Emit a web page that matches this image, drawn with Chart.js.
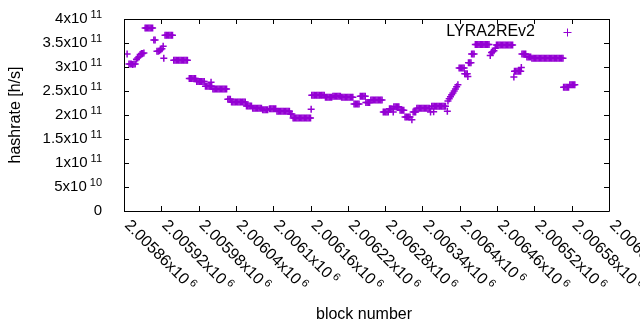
<!DOCTYPE html>
<html>
<head>
<meta charset="utf-8">
<script src="https://cdn.jsdelivr.net/npm/chart.js@4/dist/chart.umd.min.js"></script>
<style>
  html, body { margin: 0; padding: 0; background: #fff; }
  canvas { display: block; }
</style>
</head>
<body>
<canvas id="c" width="640" height="330"></canvas>
<script>
// ---- data (block number, hashrate in units of 1e9 h/s) ----
const blocks = [
  2005865,
  2005868,2005870,2005872,2005874,2005876,2005878,
  2005880,2005882,2005884,
  2005886,2005888,2005890,2005892,
  2005894,2005896,2005898,2005900,2005902,2005904,2005906,
  2005908,2005910,
  2005913,2005915,2005917,2005919,2005921,2005923,2005924,
  2005926,2005928,2005930,2005932,2005934,2005936,2005938,
  2005940,2005942,2005944,2005946,2005948,2005950,2005952,2005954,2005956,2005958,2005960,2005962,
  2005965,2005967,2005969,2005971,2005973,2005975,
  2005977,2005979,2005981,2005983,2005985,2005987,2005989,
  2005991,2005993,2005995,2005997,2005999,2006000,2006001,
  2006003,2006005,2006007,2006009,2006011,2006013,2006015,2006017,2006019,2006021,2006023,2006025,
  2006027,2006029,2006031,
  2006033,2006035,2006037,2006039,2006041,2006043,2006045,2006047,2006049,2006051,2006053,2006055,
  2006057,2006059,2006061,2006063,2006065,
  2006067,2006069,2006071,2006073,2006075,2006077,2006079,2006081,
  2006083,2006085,2006087,2006089,2006091,
  2006094,2006096,2006098,2006100,2006102,2006104,
  2006106,2006108,2006110,2006112,2006114,2006116,2006118,2006120,2006122,2006124,2006126,
  2006128,2006130,
  2006132,2006134,2006136,2006138,2006140,2006142,2006144,2006146,2006148,2006150,2006152,2006154,2006156,2006158,2006160,
  2006161,
  2006162,2006164,2006166,2006168,2006170,2006172,2006174,2006176,2006178,2006180,2006182,
  2006184,2006186,2006188,2006190,2006192,2006194,
  2006196,2006198,2006200,2006202,2006204,2006206,2006208,
  2006210,2006212,2006214,2006216,2006218,2006220,2006222,2006224,2006226,2006228,
  2006230,2006232,2006234,2006236,2006238,
  2006240,2006242,2006244,2006246,2006248,
  2006249,2006251,2006253,2006255,
  2006257,2006259,2006261,2006263,2006265,2006267,2006269,2006271,2006273,2006275,
  2006277,2006279,2006281,2006283,2006285,
  2006287,2006289,2006291,
  2006293,2006294,2006296,2006298,2006300,2006302,
  2006304,2006306,2006308,2006310,
  2006312,2006314,2006316,2006318,2006320,2006323,
  2006325,2006327,2006329,
  2006331,2006333,2006335,2006337,2006339,2006341,2006343,2006345,2006347,2006349,2006351,2006353,
  2006355,2006357,2006358,2006359,2006361,2006363,2006365,2006367,2006369,2006371,2006373,2006375,2006377,
  2006380,
  2006381,2006383,2006385,2006387,2006389,2006391,2006393,2006395,2006397,
  2006399,2006401,2006403,2006405,2006407,
  2006408,2006410,2006412,2006413,
  2006414,2006416,2006418,
  2006419,2006421,2006423,
  2006425,2006427,2006429,2006431,2006433,2006435,2006437,2006439,2006441,2006443,2006445,2006447,
  2006449,2006451,2006453,2006455,2006457,
  2006459,2006461,2006463,2006465,2006467,2006469,2006471,2006473,2006475,2006477,2006479,2006481,2006483,2006485,
  2006487,2006488,2006490,2006492,2006494,2006496,2006498,2006499,
  2006500,2006502,2006504,2006506,
  2006508,2006510,2006512,2006514,
  2006516,2006518,2006520,2006522,2006524,2006526,2006528,2006530,2006532,2006534,2006536,2006538,2006540,
  2006542,2006544,2006546,2006548,2006550,2006552,2006554,2006556,2006558,2006560,2006562,2006564,2006566,
  2006567,2006569,2006571,2006573,2006575,
  2006577,2006579,2006581,2006583,2006585
];
const hashrateGH = [
  327,
  306,306,306,305,306,306,
  316,319,321,
  326,328,328,329,
  381,381,381,381,381,381,381,
  356,356,
  333,333,334,336,338,343,318,
  366,366,366,366,366,366,366,
  314,314,314,314,314,314,314,314,314,314,314,314,
  276,276,276,276,276,276,
  270,270,270,270,270,270,270,
  260,260,260,260,260,268,260,
  254,254,254,254,254,254,254,254,254,254,254,254,
  233,233,233,
  227,227,227,227,227,227,227,227,227,227,227,227,
  219,219,219,219,219,
  214,214,214,214,214,214,214,214,
  211,211,211,211,211,
  213,213,213,213,213,213,
  208,208,208,208,208,208,208,208,208,208,208,
  202,202,
  194,194,194,194,194,194,194,194,194,194,194,194,194,194,194,
  212,
  241,241,241,241,241,241,241,241,241,241,241,
  237,237,237,237,237,237,
  239,239,239,239,239,239,239,
  237,237,237,237,237,237,237,237,237,237,
  223,223,223,223,223,
  239,239,239,239,239,
  226,226,226,226,
  231,231,231,231,231,231,231,231,231,231,
  206,206,206,206,206,
  213,213,213,
  206,217,217,217,217,217,
  210,210,210,210,
  196,196,196,196,196,190,
  206,206,206,
  214,214,214,214,214,214,214,214,214,214,214,206,
  218,218,207,218,218,218,218,218,218,218,218,218,218,
  208,
  229,234,238,242,246,250,254,259,263,
  298,298,298,298,298,
  286,286,286,280,
  309,309,309,
  327,327,327,
  347,347,347,347,347,347,347,347,347,347,347,347,
  324,330,332,334,339,
  346,346,346,346,346,346,346,346,346,346,346,346,346,346,
  279,291,291,291,291,291,291,299,
  327,327,327,327,
  321,321,321,321,
  318,318,318,318,318,318,318,318,318,318,318,318,318,
  318,318,318,318,318,318,318,318,318,318,318,318,318,
  258,258,258,258,258,
  263,263,263,263,263
];
const seriesName = 'LYRA2REv2';

// ---- axes / ticks ----
const xTicks = [2005860,2005920,2005980,2006040,2006100,2006160,2006220,2006280,2006340,2006400,2006460,2006520,2006580,2006640];
const xTickLabels = [
  ['2.00586x10','6'],['2.00592x10','6'],['2.00598x10','6'],['2.00604x10','6'],['2.0061x10','6'],
  ['2.00616x10','6'],['2.00622x10','6'],['2.00628x10','6'],['2.00634x10','6'],['2.0064x10','6'],
  ['2.00646x10','6'],['2.00652x10','6'],['2.00658x10','6'],['2.00664x10','6']
];
const yTicks = [0,5e10,1e11,1.5e11,2e11,2.5e11,3e11,3.5e11,4e11];
const yTickLabels = [['0',''],['5x10','10'],['1x10','11'],['1.5x10','11'],['2x10','11'],['2.5x10','11'],['3x10','11'],['3.5x10','11'],['4x10','11']];
const xTitle = 'block number';
const yTitle = 'hashrate [h/s]';

const COLOR = '#9400d3';
const FONT = '"Liberation Sans", Arial, sans-serif';

const points = blocks.map((b, i) => ({ x: b, y: hashrateGH[i] * 1e9 }));

function supText(ctx, base, sup, x, y, size, supSize, gap, align) {
  ctx.font = size + 'px ' + FONT;
  const wb = ctx.measureText(base).width;
  ctx.font = supSize + 'px ' + FONT;
  const ws = sup ? ctx.measureText(sup).width : 0;
  const g = sup ? gap : 0;
  const total = wb + g + ws;
  const x0 = align === 'right' ? x - total : x;
  ctx.textAlign = 'left';
  ctx.textBaseline = 'middle';
  ctx.font = size + 'px ' + FONT;
  ctx.fillText(base, x0, y);
  if (sup) {
    ctx.font = supSize + 'px ' + FONT;
    ctx.fillText(sup, x0 + wb + g, y - 4);
  }
}

const gnuplotFrame = {
  id: 'gnuplotFrame',
  afterDraw(chart) {
    const ctx = chart.ctx;
    const xs = chart.scales.x, ys = chart.scales.y;
    const L = xs.left, R = xs.right, T = ys.top, B = ys.bottom;
    ctx.save();
    ctx.strokeStyle = '#000';
    ctx.lineWidth = 1;
    ctx.beginPath();
    ctx.rect(Math.round(L) + 0.5, Math.round(T) + 0.5, Math.round(R - L), Math.round(B - T));
    ctx.stroke();
    const tl = 5;
    ctx.beginPath();
    yTicks.forEach(v => {
      const py = Math.round(ys.getPixelForValue(v)) + 0.5;
      ctx.moveTo(L, py); ctx.lineTo(L + tl, py);
      ctx.moveTo(R, py); ctx.lineTo(R - tl, py);
    });
    xTicks.forEach(v => {
      const px = Math.round(xs.getPixelForValue(v)) + 0.5;
      ctx.moveTo(px, B); ctx.lineTo(px, B - tl);
      ctx.moveTo(px, T); ctx.lineTo(px, T + tl);
    });
    ctx.stroke();

    ctx.fillStyle = '#000';
    // y tick labels
    yTicks.forEach((v, i) => {
      const py = ys.getPixelForValue(v);
      supText(ctx, yTickLabels[i][0], yTickLabels[i][1], L - 22, py, 15, 11, 3, 'right');
    });
    // x tick labels (rotated, reading downward)
    xTicks.forEach((v, i) => {
      const px = xs.getPixelForValue(v);
      ctx.save();
      ctx.translate(px + 3, B + 12);
      ctx.rotate(Math.PI / 4);
      supText(ctx, xTickLabels[i][0], xTickLabels[i][1], 0, 0, 16, 11, 3, 'left');
      ctx.restore();
    });
    // axis titles
    ctx.font = '16px ' + FONT;
    ctx.textAlign = 'center';
    ctx.textBaseline = 'middle';
    ctx.fillText(xTitle, 364, 315);
    ctx.save();
    ctx.translate(16, (T + B) / 2);
    ctx.rotate(-Math.PI / 2);
    ctx.fillText(yTitle, 0, 0);
    ctx.restore();
    // key
    ctx.textAlign = 'right';
    ctx.textBaseline = 'middle';
    ctx.fillText(seriesName, 535, 32);
    ctx.strokeStyle = COLOR;
    ctx.beginPath();
    ctx.moveTo(563.5, 32.5); ctx.lineTo(571.5, 32.5);
    ctx.moveTo(567.5, 28.5); ctx.lineTo(567.5, 36.5);
    ctx.stroke();
    ctx.restore();
  }
};

new Chart(document.getElementById('c'), {
  type: 'scatter',
  data: {
    datasets: [{
      label: seriesName,
      data: points,
      showLine: false,
      pointStyle: 'cross',
      pointRadius: 3.5,
      pointBorderWidth: 1.5,
      borderColor: COLOR,
      backgroundColor: COLOR
    }]
  },
  options: {
    responsive: false,
    animation: false,
    events: [],
    layout: { padding: { left: 124, right: 31, top: 19, bottom: 119 } },
    plugins: { legend: { display: false }, tooltip: { enabled: false } },
    scales: {
      x: { type: 'linear', display: false, min: 2005860, max: 2006640 },
      y: { type: 'linear', display: false, min: 0, max: 4e11 }
    }
  },
  plugins: [gnuplotFrame]
});
</script>
</body>
</html>
